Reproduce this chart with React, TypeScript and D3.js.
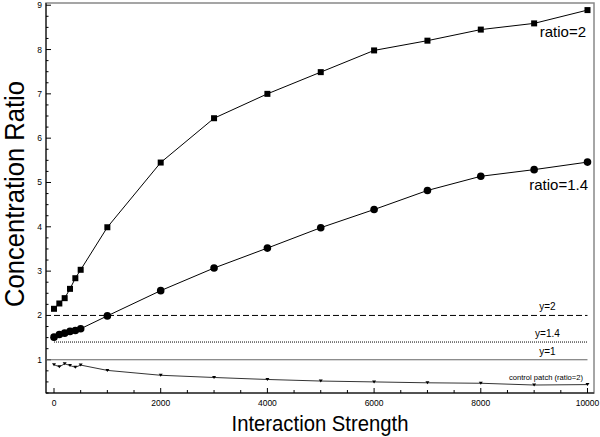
import React from 'react';
import * as d3 from 'd3';

const strengths = [0, 100, 200, 300, 400, 500, 1000, 2000, 3000, 4000, 5000, 6000, 7000, 8000, 9000, 10000];
const ratio2 = [2.15, 2.27, 2.39, 2.6, 2.84, 3.03, 3.99, 5.45, 6.45, 7.0, 7.49, 7.98, 8.2, 8.45, 8.59, 8.89];
const ratio14 = [1.51, 1.57, 1.6, 1.64, 1.66, 1.7, 1.99, 2.56, 3.07, 3.52, 3.98, 4.39, 4.82, 5.14, 5.29, 5.46];
const control = [0.89, 0.84, 0.91, 0.87, 0.83, 0.88, 0.76, 0.65, 0.6, 0.555, 0.52, 0.5, 0.48, 0.47, 0.43, 0.44];

const refLines = [
  { y: 2, label: 'y=2', dash: '6,3' },
  { y: 1.4, label: 'y=1.4', dash: '1,1' },
  { y: 1, label: 'y=1', dash: null },
];

const xTickLabels = [0, 2000, 4000, 6000, 8000, 10000];
const yTickLabels = [1, 2, 3, 4, 5, 6, 7, 8, 9];

const font = 'Liberation Sans, Arial, Helvetica, sans-serif';

const App = () => {
  const width = 600;
  const height = 437;
  const x = d3.scaleLinear().domain([-150, 10122]).range([46, 594]);
  const y = d3.scaleLinear().domain([0.25, 9.05]).range([393, 3]);

  const line = d3.line<number>()
    .x((d, i) => x(strengths[i]))
    .y(d => y(d));

  const xMinor = d3.range(0, 10001, 500);
  const yMinor = d3.range(0.25, 9.01, 0.25);

  return (
    <svg width={width} height={height} style={{ position: 'absolute', left: 0, top: 0 }} fontFamily={font}>
      <rect x={x.range()[0]} y={y.range()[1]} width={x.range()[1] - x.range()[0]} height={y.range()[0] - y.range()[1]}
        fill="none" stroke="#888" strokeWidth={1.5} />
      <line x1={46} x2={46} y1={3} y2={393} stroke="#000" />
      <line x1={46} x2={594} y1={393} y2={393} stroke="#000" />

      {xMinor.map(v => (
        <line key={'xm' + v} x1={x(v)} x2={x(v)} y1={393} y2={393 - (v % 2000 === 0 ? 5 : 3)} stroke="#000" />
      ))}
      {xTickLabels.map(v => (
        <text key={'xl' + v} x={x(v)} y={406} textAnchor="middle" fontSize={8.5}>{v}</text>
      ))}
      {yMinor.map(v => (
        <line key={'ym' + v} x1={46} x2={46 + (Math.abs(v - Math.round(v)) < 1e-6 ? 5 : 2.5)} y1={y(v)} y2={y(v)} stroke="#000" />
      ))}
      {yTickLabels.map(v => (
        <text key={'yl' + v} x={42} y={y(v)} dy="0.35em" textAnchor="end" fontSize={8.5}>{v}</text>
      ))}

      {refLines.map(r => (
        <g key={r.label}>
          <line x1={r.y === 1 ? x(-150) : x(0)} x2={x(10000)} y1={y(r.y)} y2={y(r.y)}
            stroke={r.y === 1 ? '#666' : '#000'} strokeWidth={1} strokeDasharray={r.dash || undefined} />
          <text x={x(9250)} y={y(r.y) - 5} textAnchor="middle" fontSize={10}>{r.label}</text>
        </g>
      ))}

      <path d={line(ratio2) || ''} fill="none" stroke="#000" strokeWidth={1} />
      {ratio2.map((v, i) => (
        <rect key={'s' + i} x={x(strengths[i]) - 3} y={y(v) - 3} width={6} height={6} fill="#000" />
      ))}
      <path d={line(ratio14) || ''} fill="none" stroke="#000" strokeWidth={1} />
      {ratio14.map((v, i) => (
        <circle key={'c' + i} cx={x(strengths[i])} cy={y(v)} r={3.8} fill="#000" />
      ))}
      <path d={line(control) || ''} fill="none" stroke="#000" strokeWidth={0.8} />
      {control.map((v, i) => {
        const cx = x(strengths[i]);
        const cy = y(v);
        return <path key={'t' + i} d={`M${cx - 2},${cy - 1.5}L${cx + 2},${cy - 1.5}L${cx},${cy + 1.5}Z`} fill="#000" />;
      })}

      <text x={586} y={37} textAnchor="end" fontSize={15}>ratio=2</text>
      <text x={588} y={190} textAnchor="end" fontSize={15}>ratio=1.4</text>
      <text x={546} y={380} textAnchor="middle" fontSize={7.6} fill="#000">control patch (ratio=2)</text>

      <text x={320} y={431} textAnchor="middle" fontSize={21.5} textLength={177} lengthAdjust="spacingAndGlyphs">Interaction Strength</text>
      <text transform="translate(24,194) rotate(-90)" textAnchor="middle" fontSize={28} textLength={226} lengthAdjust="spacingAndGlyphs">Concentration Ratio</text>
    </svg>
  );
};

export default App;
